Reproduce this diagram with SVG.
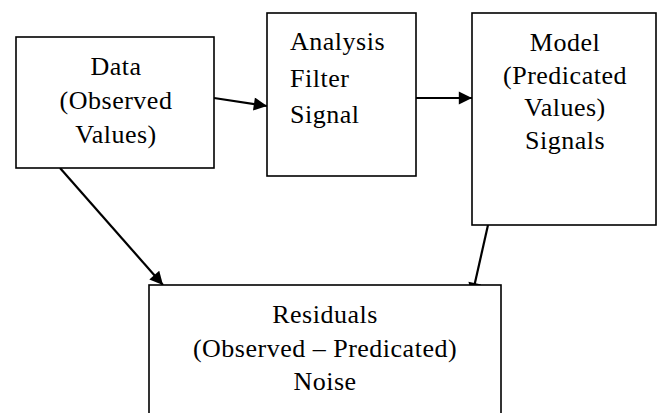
<svg xmlns="http://www.w3.org/2000/svg" width="658" height="413" viewBox="0 0 658 413">
  <style>
    .box { fill: #ffffff; stroke: #000000; stroke-width: 1.6; }
    .lbl { font-family: "Liberation Serif", "Times New Roman", serif; font-size: 26px; letter-spacing: 0.5px; fill: #000000; }
    .mid { text-anchor: middle; }
    .edge { fill: none; stroke: #000000; stroke-width: 2.2; }
  </style>
  <defs>
    <marker id="arrow" viewBox="0 0 10 10" refX="10" refY="5" markerWidth="7" markerHeight="6" markerUnits="strokeWidth" orient="auto">
      <path d="M0,0 L10,5 L0,10 Z" fill="#000000"/>
    </marker>
  </defs>
  <rect width="658" height="413" fill="#ffffff"/>

  <!-- connectors sit underneath the boxes -->
  <g id="connectors">
    <line class="edge" x1="214" y1="98" x2="267" y2="106" marker-end="url(#arrow)"/>
    <line class="edge" x1="404" y1="98" x2="472" y2="98" marker-end="url(#arrow)"/>
    <line class="edge" x1="60" y1="168" x2="163" y2="285" marker-end="url(#arrow)"/>
    <line class="edge" x1="488" y1="225" x2="472" y2="296" marker-end="url(#arrow)"/>
  </g>

  <g id="data">
    <rect class="box" x="16" y="37" width="198" height="131"/>
    <text class="lbl mid" x="116" y="75">Data</text>
    <text class="lbl mid" x="116" y="109">(Observed</text>
    <text class="lbl mid" x="116" y="143">Values)</text>
  </g>

  <g id="analysis">
    <rect class="box" x="267" y="13" width="149" height="163"/>
    <text class="lbl" x="290" y="50">Analysis</text>
    <text class="lbl" x="290" y="87">Filter</text>
    <text class="lbl" x="290" y="123">Signal</text>
  </g>

  <g id="model">
    <rect class="box" x="472" y="13" width="184" height="212"/>
    <text class="lbl mid" x="565" y="51">Model</text>
    <text class="lbl mid" x="565" y="84">(Predicated</text>
    <text class="lbl mid" x="565" y="116">Values)</text>
    <text class="lbl mid" x="565" y="149">Signals</text>
  </g>

  <g id="residuals">
    <rect class="box" x="149" y="285" width="352" height="140"/>
    <text class="lbl mid" x="325" y="323">Residuals</text>
    <text class="lbl mid" x="325" y="357">(Observed – Predicated)</text>
    <text class="lbl mid" x="325" y="390">Noise</text>
  </g>
</svg>
